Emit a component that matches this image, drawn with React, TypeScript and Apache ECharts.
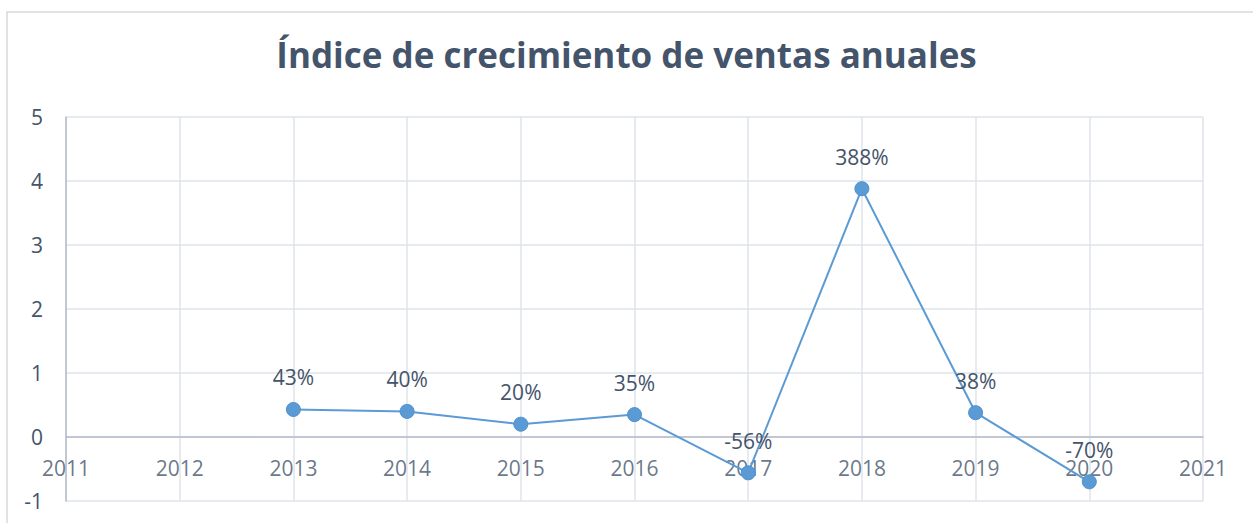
import React, { useEffect, useRef } from "react";
import * as echarts from "echarts";

const years = [2013, 2014, 2015, 2016, 2017, 2018, 2019, 2020];
const growth = [0.43, 0.4, 0.2, 0.35, -0.56, 3.88, 0.38, -0.7];
const xTickLabels = [2011, 2012, 2013, 2014, 2015, 2016, 2017, 2018, 2019, 2020, 2021];
const titleText = "Índice de crecimiento de ventas anuales";

const TEXT = "#44546a";
const FONT = "Open Sans";

export default function App() {
  const ref = useRef<HTMLDivElement>(null);
  useEffect(() => {
    if (!ref.current) return;
    const chart = echarts.init(ref.current, undefined, { renderer: "svg" });
    chart.setOption({
      animation: false,
      backgroundColor: "#ffffff",
      title: {
        text: titleText,
        left: "center",
        top: 32,
        textStyle: { color: TEXT, fontFamily: FONT, fontWeight: "bold", fontSize: 35 },
      },
      graphic: [
        {
          type: "rect",
          shape: { x: 7, y: 12, width: 1260, height: 530 },
          style: { fill: "none", stroke: "#d9d9d9", lineWidth: 1.5 },
          silent: true,
        },
      ],
      grid: { left: 66, right: 50, top: 117, bottom: 22, outerBoundsMode: "none", containLabel: false },
      xAxis: {
        type: "value",
        min: 2011,
        max: 2021,
        interval: 1,
        axisLine: { show: true, onZero: true, lineStyle: { color: "#b4bccb", width: 1.5 } },
        axisTick: { show: false },
        axisLabel: { show: false },
        splitLine: { show: true, lineStyle: { color: "#dfe3ea", width: 1.5 } },
      },
      yAxis: {
        type: "value",
        min: -1,
        max: 5,
        interval: 1,
        axisLine: { show: true, onZero: false, lineStyle: { color: "#b4bccb", width: 1.5 } },
        axisTick: { show: false },
        axisLabel: { color: TEXT, fontFamily: FONT, fontSize: 21, margin: 23 },
        splitLine: { show: true, lineStyle: { color: "#dfe3ea", width: 1.5 } },
      },
      series: [
        {
          type: "scatter",
          data: xTickLabels.map((y) => [y, 0]),
          symbolSize: 0,
          silent: true,
          z: 1,
          label: {
            show: true,
            position: "bottom",
            distance: 20,
            color: TEXT,
            fontFamily: FONT,
            fontSize: 21,
            formatter: (p: any) => String(p.value[0]),
          },
        },
        {
          type: "line",
          data: years.map((y, i) => [y, growth[i]]),
          symbol: "circle",
          symbolSize: 14,
          z: 3,
          lineStyle: { color: "#5b9bd5", width: 2 },
          itemStyle: { color: "#5b9bd5", borderColor: "#4f8fcc", borderWidth: 1 },
          label: {
            show: true,
            position: "top",
            distance: 14,
            color: TEXT,
            fontFamily: FONT,
            fontSize: 21,
            formatter: (p: any) => Math.round(p.value[1] * 100) + "%",
          },
        },
      ],
    });
    return () => chart.dispose();
  }, []);
  return (
    <div
      ref={ref}
      style={{ position: "fixed", left: 0, top: 0, width: 1253, height: 523 }}
    />
  );
}
